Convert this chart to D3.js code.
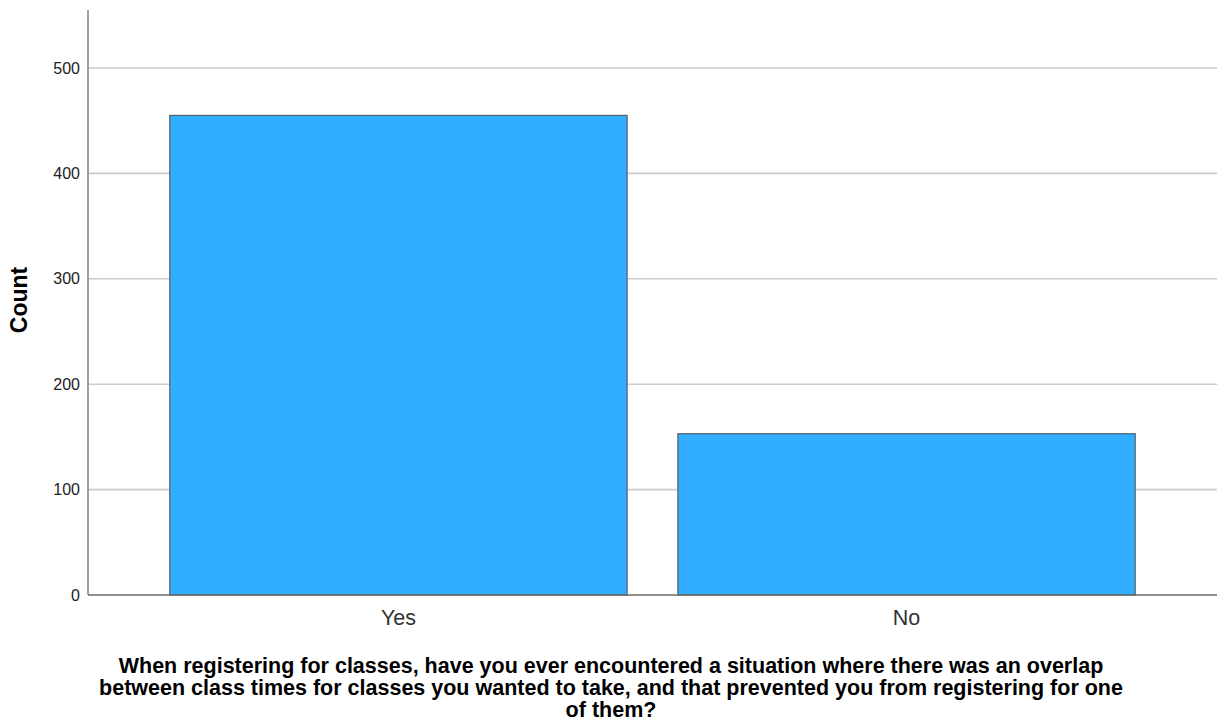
<!DOCTYPE html>
<html><head><meta charset="utf-8">
<script src="https://cdn.jsdelivr.net/npm/d3@7"></script>
<style>body{margin:0;background:#fff}svg{display:block}</style>
</head><body>
<script>
const categories = ["Yes", "No"];
const counts = [455, 153];
const yTicks = [0, 100, 200, 300, 400, 500];
const yLabel = "Count";
const titleLines = [
  "When registering for classes, have you ever encountered a situation where there was an overlap",
  "between class times for classes you wanted to take, and that prevented you from registering for one",
  "of them?"
];

(function () {
const W = 1221, H = 724;
const mLeft = 88, mRight = 1217, mTop = 10, mBottom = 595;
const FONT = "Liberation Sans, Arial, sans-serif";
const svg = d3.select("body").append("svg").attr("width", W).attr("height", H);

const x = d3.scaleBand().domain(categories).range([mLeft, mRight]).paddingInner(0.1).paddingOuter(0.161);
const y = d3.scaleLinear().domain([0, 555]).range([mBottom, mTop]);

// gridlines
svg.append("g").selectAll("line").data(yTicks.filter(d => d > 0)).join("line")
  .attr("x1", mLeft).attr("x2", mRight)
  .attr("y1", d => y(d)).attr("y2", d => y(d))
  .attr("stroke", "#cccccc").attr("stroke-width", 1.6);

// bars
svg.append("g").selectAll("rect").data(categories).join("rect")
  .attr("x", d => x(d)).attr("width", x.bandwidth())
  .attr("y", (d, i) => y(counts[i])).attr("height", (d, i) => mBottom - y(counts[i]))
  .attr("fill", "#31aeff").attr("stroke", "#555d66").attr("stroke-width", 1.2);

// y axis
const yAxis = d3.axisLeft(y).tickValues(yTicks).tickSize(0).tickPadding(8);
const gy = svg.append("g").attr("transform", `translate(${mLeft},0)`).call(yAxis);
gy.select(".domain").attr("stroke", "#8a8a8a").attr("stroke-width", 1.6).attr("d", `M0,${mTop}V${mBottom}`);
gy.selectAll("text").attr("font-family", FONT).attr("font-size", 16).attr("fill", "#222");

// x axis
const xAxis = d3.axisBottom(x).tickSize(0).tickPadding(15);
const gx = svg.append("g").attr("transform", `translate(0,${mBottom})`).call(xAxis);
gx.select(".domain").attr("stroke", "#6a6a6a").attr("stroke-width", 1.6).attr("d", `M${mLeft},0H${mRight}`);
gx.selectAll("text").attr("font-family", FONT).attr("font-size", 21.5).attr("fill", "#333");

// y label
svg.append("text").attr("transform", "translate(27,300) rotate(-90)")
  .attr("text-anchor", "middle").attr("font-family", FONT)
  .attr("font-weight", "bold").attr("font-size", 23).attr("fill", "#000").text(yLabel);

// title
const t = svg.append("text").attr("text-anchor", "middle")
  .attr("font-family", FONT).attr("font-weight", "bold")
  .attr("font-size", 21.5).attr("fill", "#000");
titleLines.forEach((l, i) => t.append("tspan").attr("x", 611).attr("y", 673 + i * 22).text(l));
})();
</script>
</body></html>
